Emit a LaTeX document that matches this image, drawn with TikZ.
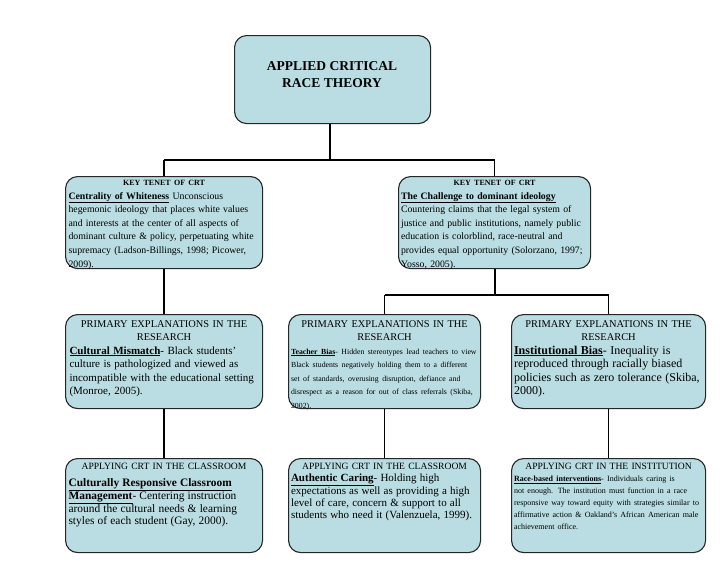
\documentclass[tikz,border=0pt]{standalone}
\usepackage{fontspec}
\setmainfont{Liberation Serif}
\definecolor{boxfill}{HTML}{B9DDE2}
\newcommand{\hdl}[1]{\makebox[\linewidth][c]{#1}\\}
\hyphenpenalty=10000
\begin{document}
\begin{tikzpicture}[x=1pt,y=-1pt,
  bx/.style={draw=black!85,line width=1.1pt,fill=boxfill,rounded corners=12pt,inner sep=0pt,anchor=north west},
  tx/.style={anchor=north,inner sep=0pt,align=left,font=\fontsize{9.8}{13.6}\selectfont},
  ln/.style={line width=1.5pt}]
\useasboundingbox (0,0) rectangle (728,563);
\node[bx,minimum width=196pt,minimum height=88pt] (top) at (234,35) {};
\node[anchor=north,align=center,font=\bfseries\fontsize{13.5}{17}\selectfont] (toptx) at (332,58) {APPLIED CRITICAL\\RACE THEORY};
\node[bx,minimum width=197pt,minimum height=92pt] (t1) at (65,176) {};
\node[bx,minimum width=192pt,minimum height=92pt] (t2) at (398,176) {};
\node[bx,minimum width=197pt,minimum height=94pt] (p1) at (65,314) {};
\node[bx,minimum width=192pt,minimum height=94pt] (p2) at (288,314) {};
\node[bx,minimum width=194pt,minimum height=94pt] (p3) at (511,314) {};
\node[bx,minimum width=197pt,minimum height=94pt] (a1) at (65,458) {};
\node[bx,minimum width=192pt,minimum height=94pt] (a2) at (288,458) {};
\node[bx,minimum width=194pt,minimum height=94pt] (a3) at (511,458) {};
% texts
\node[tx,text width=191pt] (t1x) at (t1.north) [yshift=-4pt] {\hdl{\bfseries\fontsize{8}{10}\selectfont KEY TENET OF CRT}\underline{\bfseries Centrality of Whiteness} Unconscious hegemonic ideology that places white values and interests at the center of all aspects of dominant culture \& policy, perpetuating white supremacy (Ladson-Billings, 1998; Picower, 2009).};
\node[tx,text width=187pt] (t2x) at (t2.north) [yshift=-4pt] {\hdl{\bfseries\fontsize{8}{10}\selectfont KEY TENET OF CRT}\underline{\bfseries The Challenge to dominant ideology}\\Countering claims that the legal system of justice and public institutions, namely public education is colorblind, race-neutral and provides equal opportunity (Solorzano, 1997; Yosso, 2005).};
\node[tx,text width=189pt,font=\fontsize{10.4}{13.5}\selectfont] (p1x) at (p1.north) [yshift=-6pt] {\hdl{PRIMARY EXPLANATIONS IN THE}\hdl{RESEARCH}\fontsize{11}{15.5}\selectfont\underline{\bfseries Cultural Mismatch}- Black students' culture is pathologized and viewed as incompatible with the educational setting (Monroe, 2005).};
\node[tx,text width=187pt,font=\fontsize{10.4}{13.5}\selectfont] (p2x) at (p2.north) [yshift=-6pt] {\hdl{PRIMARY EXPLANATIONS IN THE}\hdl{RESEARCH}\fontsize{7.8}{12}\selectfont\underline{\bfseries Teacher Bias}- Hidden stereotypes lead teachers to view Black students negatively holding them to a different set of standards, overusing disruption, defiance and disrespect as a reason for out of class referrals (Skiba, 2002).};
\node[tx,text width=189pt,font=\fontsize{10.4}{13.5}\selectfont] (p3x) at (p3.north) [yshift=-6pt] {\hdl{PRIMARY EXPLANATIONS IN THE}\hdl{RESEARCH}\fontsize{12}{16}\selectfont\underline{\bfseries Institutional Bias}- Inequality is reproduced through racially biased policies such as zero tolerance (Skiba, 2000).};
\node[tx,text width=191pt,font=\fontsize{9.6}{12}\selectfont] (a1x) at (a1.north) [yshift=-5pt] {\hdl{APPLYING CRT IN THE CLASSROOM}\fontsize{11.4}{16.5}\selectfont\underline{\bfseries Culturally Responsive Classroom}\\\underline{\bfseries Management}- Centering instruction around the cultural needs \& learning styles of each student (Gay, 2000).};
\node[tx,text width=187pt,font=\fontsize{9.6}{12}\selectfont] (a2x) at (a2.north) [yshift=-5pt] {\hdl{APPLYING CRT IN THE CLASSROOM}\fontsize{11}{16}\selectfont\underline{\bfseries Authentic Caring}- Holding high expectations as well as providing a high level of care, concern \& support to all students who need it (Valenzuela, 1999).};
\node[tx,text width=189pt,font=\fontsize{9.6}{12}\selectfont] (a3x) at (a3.north) [yshift=-5pt] {\hdl{APPLYING CRT IN THE INSTITUTION}\fontsize{8}{12.5}\selectfont\underline{\bfseries Race-based interventions}- Individuals caring is not enough. The institution must function in a race responsive way toward equity with strategies similar to affirmative action \& Oakland's African American male achievement office.};
% connectors
\coordinate (j1) at (330,160);
\coordinate (j2) at (495,295);
\draw[ln] (top.south -| j1) -- (j1);
\draw[ln] (j1 -| t1.north) -- (j1 -| t2.north);
\draw[ln] (t1.north |- j1) -- (t1.north);
\draw[ln] (t2.north |- j1) -- (t2.north);
\draw[ln] (t1.south) -- (p1.north);
\draw[ln] (t2.south -| j2) -- (j2);
\draw[ln] (j2 -| p2.north) -- (j2 -| p3.north);
\draw[ln] (p2.north |- j2) -- (p2.north);
\draw[ln] (p3.north |- j2) -- (p3.north);
\draw[ln] (p1.south) -- (a1.north);
\draw[ln] (p2.south) -- (a2.north);
\draw[ln] (p3.south) -- (a3.north);
\end{tikzpicture}
\end{document}
